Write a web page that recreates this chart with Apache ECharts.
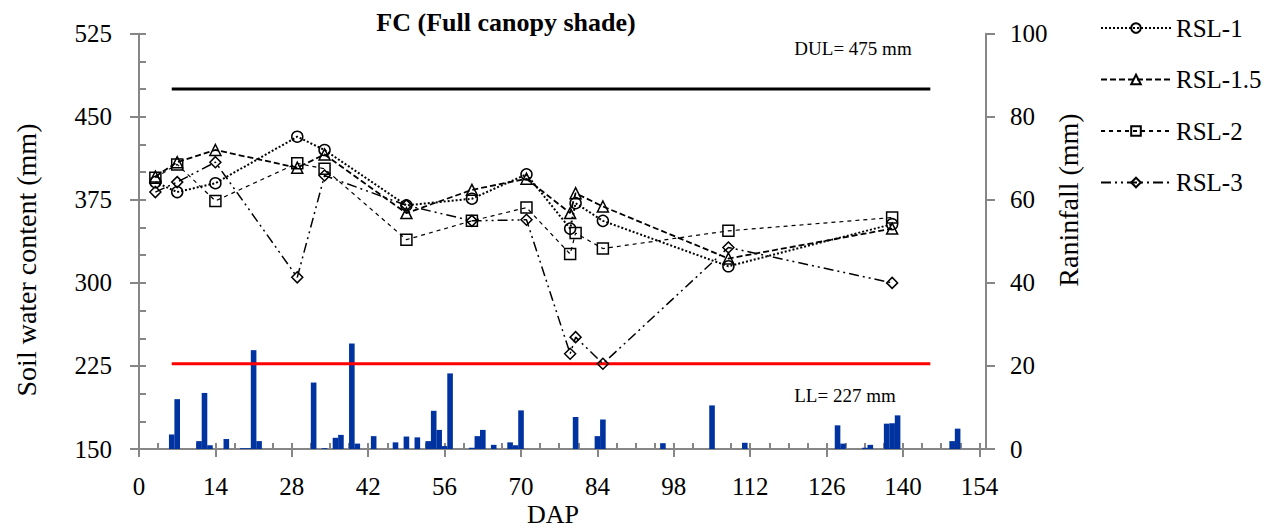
<!DOCTYPE html>
<html>
<head>
<meta charset="utf-8">
<script src="https://cdn.jsdelivr.net/npm/echarts@6/dist/echarts.min.js"></script>
<style>html,body{margin:0;padding:0;background:#fff;}#c{width:1282px;height:529px;}</style>
</head>
<body>
<div id="c"></div>
<script>
// ---- data ----
const days = [3, 7, 14, 29, 34, 49, 61, 71, 79, 80, 85, 108, 138];
const rsl1 = [391, 382, 390, 432, 420, 370, 376, 398, 349, 372, 356, 315, 353];
const rsl15 = [396, 409, 420, 404, 416, 363, 384, 394, 363, 381, 369, 322, 349];
const rsl2 = [395, 407, 374, 408, 403, 339, 356, 368, 326, 345, 331, 347, 359];
const rsl3 = [382, 391, 409, 305, 397, 370, 356, 357, 236, 251, 227, 332, 300];
const rainDays = [6, 7, 11, 12, 13, 16, 19, 20, 21, 22, 32, 34, 36, 37, 39, 40, 43, 47, 49, 51, 53, 54, 55, 56, 57, 61, 62, 63, 65, 68, 69, 70, 80, 84, 85, 96, 105, 111, 128, 129, 133, 134, 137, 138, 139, 149, 150];
const rainMm = [3.5, 12.0, 1.9, 13.5, 0.9, 2.4, 0.2, 0.2, 23.8, 1.9, 16.0, 0.2, 2.7, 3.4, 25.4, 1.3, 3.1, 1.6, 3.0, 2.8, 1.9, 9.2, 4.6, 0.7, 18.2, 0.3, 3.1, 4.6, 1.0, 1.6, 0.9, 9.3, 7.7, 3.1, 7.1, 1.4, 10.5, 1.5, 5.7, 1.3, 0.3, 1.0, 6.1, 6.2, 8.1, 1.9, 4.9];
const DUL = 475, LL = 227;
const refStart = 6, refEnd = 145;
const seriesNames = ['RSL-1', 'RSL-1.5', 'RSL-2', 'RSL-3'];
const xTicks = [0, 14, 28, 42, 56, 70, 84, 98, 112, 126, 140, 154];

// ---- chart ----
const FONT = 'Liberation Serif, Times New Roman, serif';
const AX = '#868686';
const pair = (xs, ys) => xs.map((x, i) => [x, ys[i]]);
const chart = echarts.init(document.getElementById('c'), null, {renderer: 'svg'});

function lineSeries(name, data, symbol, dash, width) {
  return {
    name, type: 'line', xAxisIndex: 0, yAxisIndex: 0, data,
    symbol, symbolSize: 11, showAllSymbol: true,
    lineStyle: {color: '#000', width, type: dash},
    itemStyle: {color: 'rgba(255,255,255,0)', borderColor: '#000', borderWidth: 1.5},
    emphasis: {disabled: true}, z: 5, animation: false
  };
}

const option = {
  animation: false,
  grid: {left: 139, right: 296, top: 33.7, bottom: 80},
  legend: {
    data: seriesNames, orient: 'vertical', left: 1100, top: 15, padding: 0,
    itemWidth: 70, itemHeight: 12, itemGap: 25.5,
    textStyle: {fontFamily: FONT, fontSize: 25, color: '#000', lineHeight: 26}
  },
  xAxis: [
    {type: 'value', min: 0, max: 155.2, interval: 14, position: 'bottom',
     axisLine: {show: true, onZero: false, lineStyle: {color: AX, width: 2}},
     axisTick: {show: true, inside: false, length: 8, lineStyle: {color: AX, width: 2}},
     axisLabel: {formatter: v => (xTicks.indexOf(v) >= 0 ? String(v) : ''), margin: 25, fontSize: 25, color: '#000', fontFamily: FONT, showMaxLabel: false},
     splitLine: {show: false}},
    {type: 'value', min: 0, max: 155.2, interval: 3.5, position: 'bottom', offset: 0,
     axisLine: {show: false, onZero: false},
     axisTick: {show: true, inside: true, length: 6, lineStyle: {color: AX, width: 2}},
     axisLabel: {show: false}, splitLine: {show: false}}
  ],
  yAxis: [
    {type: 'value', min: 150, max: 525, interval: 75, position: 'left',
     axisLine: {show: true, onZero: false, lineStyle: {color: AX, width: 2}},
     axisTick: {show: true, inside: false, length: 9, lineStyle: {color: AX, width: 2}},
     axisLabel: {margin: 27, fontSize: 25, color: '#000', fontFamily: FONT},
     splitLine: {show: false}},
    {type: 'value', min: 0, max: 100, interval: 20, position: 'right',
     axisLine: {show: true, onZero: false, lineStyle: {color: AX, width: 2}},
     axisTick: {show: true, inside: false, length: 9, lineStyle: {color: AX, width: 2}},
     axisLabel: {margin: 24, fontSize: 25, color: '#000', fontFamily: FONT},
     splitLine: {show: false}},
    {type: 'value', min: 150, max: 525, interval: 25, position: 'left', offset: 0,
     axisLine: {show: false, onZero: false},
     axisTick: {show: true, inside: true, length: 7, lineStyle: {color: AX, width: 2}},
     axisLabel: {show: false}, splitLine: {show: false}}
  ],
  series: [
    {name: 'Rainfall', type: 'bar', xAxisIndex: 0, yAxisIndex: 1, data: pair(rainDays, rainMm),
     barWidth: 5.6, itemStyle: {color: '#0033A0'}, z: 2, emphasis: {disabled: true}},
    {name: 'DUL', type: 'line', xAxisIndex: 0, yAxisIndex: 0, data: [[refStart, DUL], [refEnd, DUL]],
     symbol: 'none', lineStyle: {color: '#000', width: 3}, z: 3, emphasis: {disabled: true}},
    {name: 'LL', type: 'line', xAxisIndex: 0, yAxisIndex: 0, data: [[refStart, LL], [refEnd, LL]],
     symbol: 'none', lineStyle: {color: '#FF0000', width: 3}, z: 3, emphasis: {disabled: true}},
    lineSeries('RSL-1', pair(days, rsl1), 'circle', [2, 2], 2),
    lineSeries('RSL-1.5', pair(days, rsl15), 'triangle', [6, 3], 1.8),
    lineSeries('RSL-2', pair(days, rsl2), 'rect', [4, 4], 1.2),
    lineSeries('RSL-3', pair(days, rsl3), 'diamond', [10, 4, 2, 4, 2, 4], 1.5)
  ],
  graphic: [
    {type: 'text', x: 506, y: 22, style: {text: 'FC (Full canopy shade)', font: 'bold 26px ' + FONT, fill: '#000', align: 'center', verticalAlign: 'middle'}},
    {type: 'text', x: 26, y: 260, rotation: Math.PI / 2, style: {text: 'Soil water content (mm)', font: '28px ' + FONT, fill: '#000', align: 'center', verticalAlign: 'middle'}},
    {type: 'text', x: 1068, y: 200, rotation: Math.PI / 2, style: {text: 'Raninfall (mm)', font: '28px ' + FONT, fill: '#000', align: 'center', verticalAlign: 'middle'}},
    {type: 'text', x: 553, y: 514, style: {text: 'DAP', font: '26px ' + FONT, fill: '#000', align: 'center', verticalAlign: 'middle'}},
    {type: 'text', x: 853, y: 48, style: {text: 'DUL= 475 mm', font: '19px ' + FONT, fill: '#000', align: 'center', verticalAlign: 'middle'}},
    {type: 'text', x: 845, y: 395, style: {text: 'LL= 227 mm', font: '19px ' + FONT, fill: '#000', align: 'center', verticalAlign: 'middle'}}
  ]
};
chart.setOption(option);
</script>
</body>
</html>
